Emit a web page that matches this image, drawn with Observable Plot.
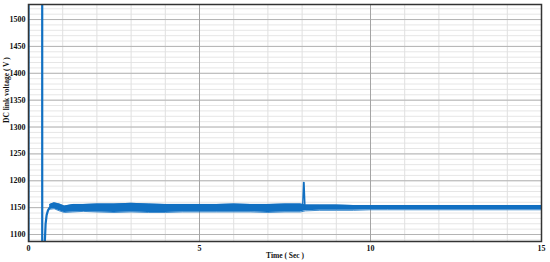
<!DOCTYPE html>
<html>
<head>
<meta charset="utf-8">
<script src="https://cdn.jsdelivr.net/npm/d3@7"></script>
<script src="https://cdn.jsdelivr.net/npm/@observablehq/plot@0.6"></script>
<style>
  html, body { margin: 0; padding: 0; background: #fff; }
  #chart svg { display: block; }
</style>
</head>
<body>
<div id="chart"></div>
<script>
// ---- data ----
const yTicks = [1100, 1150, 1200, 1250, 1300, 1350, 1400, 1450, 1500];
const yMinorTicks = [1090, 1100, 1110, 1120, 1130, 1140, 1150, 1160, 1170, 1180, 1190, 1200, 1210, 1220, 1230, 1240, 1250, 1260, 1270, 1280, 1290, 1300, 1310, 1320, 1330, 1340, 1350, 1360, 1370, 1380, 1390, 1400, 1410, 1420, 1430, 1440, 1450, 1460, 1470, 1480, 1490, 1500, 1510, 1520];
const xTicks = [0, 5, 10, 15];
const xMinorTicks = [0, 1, 2, 3, 4, 5, 6, 7, 8, 9, 10, 11, 12, 13, 14, 15];
const xLabel = "Time ( Sec )";
const yLabel = "DC link voltage ( V )";

// start-up transient (V) : goes off-scale, drops at ~0.4 s, then rises
const transientT = [0, 0.002, 0.40, 0.402, 0.465, 0.48, 0.50, 0.53, 0.57, 0.62, 0.70];
const transientV = [900, 2000, 2000, 900, 1000, 1090, 1120, 1136, 1145, 1150, 1154];

// ripple band envelope (V)
const bandT     = [0.62, 0.75, 0.9, 1.05, 1.3, 1.6, 2.0, 2.5, 3.0, 3.5, 4.0, 4.5, 5.0, 5.5, 6.0, 6.5, 7.0, 7.5, 7.95, 8.1, 8.5, 9.0, 9.5, 10.0, 10.5, 11.0, 12.0, 13.0, 14.0, 15.0];
const bandUpper = [1156, 1159, 1157, 1153, 1156, 1156, 1157, 1157, 1158, 1157, 1156, 1156, 1156, 1156, 1157, 1156, 1156, 1157, 1157, 1155, 1155, 1155, 1154, 1154, 1154, 1154, 1154, 1154, 1154, 1154];
const bandLower = [1147, 1148, 1144, 1141, 1142, 1143, 1142, 1141, 1142, 1141, 1141, 1142, 1142, 1142, 1142, 1142, 1141, 1142, 1142, 1144, 1145, 1145, 1145, 1146, 1146, 1146, 1146, 1146, 1146, 1146];

// spike near 8.05 s
const spikeT = [8.015, 8.045, 8.055, 8.085];
const spikeV = [1148, 1197, 1197, 1148];

// ---- tables ----
const transient = transientT.map((t, i) => ({t, v: transientV[i]}));
const band = bandT.map((t, i) => ({t, lo: bandLower[i], hi: bandUpper[i]}));
const spike = spikeT.map((t, i) => ({t, v: spikeV[i]}));

const blue = "#1170c2";

const chart = Plot.plot({
  width: 550,
  height: 262,
  marginLeft: 28,
  marginRight: 9,
  marginTop: 4,
  marginBottom: 21,
  style: {fontFamily: "'Liberation Serif', 'Times New Roman', serif", fontSize: "8px", fontWeight: "bold", color: "#111", background: "#fff"},
  x: {domain: [0, 15], ticks: xTicks, tickSize: 0, tickPadding: 4, label: null, tickFormat: d => String(d)},
  y: {domain: [1087, 1528], ticks: yTicks, tickSize: 0, tickPadding: 3, label: null, tickFormat: d => String(d)},
  marks: [
    Plot.ruleY(yMinorTicks, {stroke: "#e6e6e6", strokeWidth: 1}),
    Plot.ruleX(xMinorTicks, {stroke: "#e0e0e0", strokeWidth: 1}),
    Plot.ruleY(yTicks, {stroke: "#b4b4b4", strokeWidth: 1}),
    Plot.ruleX([5, 10], {stroke: "#a4a4a4", strokeWidth: 1}),
    Plot.areaY(band, {x: "t", y1: "lo", y2: "hi", fill: blue, curve: "linear"}),
    Plot.lineY(band, {x: "t", y: "hi", stroke: blue, strokeWidth: 0.8}),
    Plot.lineY(band, {x: "t", y: "lo", stroke: blue, strokeWidth: 0.8}),
    Plot.line(transient, {x: "t", y: "v", stroke: blue, strokeWidth: 2.2, clip: true}),
    Plot.line(spike, {x: "t", y: "v", stroke: blue, strokeWidth: 1.5, clip: true}),
    Plot.frame({stroke: "#333", strokeWidth: 1.5}),
    Plot.text([xLabel], {frameAnchor: "bottom", dy: 16, text: d => d, fontSize: 7.5, fontWeight: "bold"}),
    Plot.text([yLabel], {frameAnchor: "left", dx: -22, rotate: -90, text: d => d, fontSize: 7.5, fontWeight: "bold"})
  ]
});
document.getElementById("chart").appendChild(chart);
</script>
</body>
</html>
